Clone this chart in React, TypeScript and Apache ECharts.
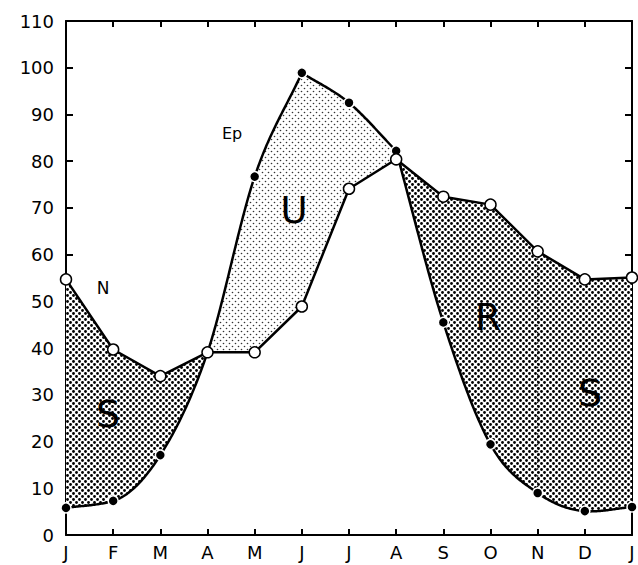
import React, { useEffect, useRef } from "react";
import * as echarts from "echarts";

// Month labels (x axis, J ... J)
const months = ["J", "F", "M", "A", "M", "J", "J", "A", "S", "O", "N", "D", "J"];
// N curve (open circles)
const seriesN = [54.7, 39.7, 34.0, 39.1, 39.1, 48.9, 74.1, 80.4, 72.4, 70.7, 60.7, 54.7, 55.1];
// Ep curve (filled dots)
const seriesEp = [5.8, 7.3, 17.1, 39.1, 76.7, 98.9, 92.5, 82.2, 45.5, 19.4, 9.0, 5.1, 6.0];
// y axis range / tick step
const yMin = 0;
const yMax = 110;
const yStep = 10;
// index of the month with the dotted separator (N)
const dividerIndex = 10;

function makePattern(size: number, dots: number[][], color: string) {
  const c = document.createElement("canvas");
  c.width = size;
  c.height = size;
  const ctx = c.getContext("2d")!;
  ctx.fillStyle = "#ffffff";
  ctx.fillRect(0, 0, size, size);
  ctx.fillStyle = color;
  dots.forEach(([x, y, r]) => {
    ctx.beginPath();
    ctx.arc(x, y, r, 0, Math.PI * 2);
    ctx.fill();
  });
  return {
    image: c.toDataURL(),
    repeat: "repeat",
    imageWidth: size,
    imageHeight: size,
  };
}

// one-sided tangents: smooth (monotone) at ordinary points, a corner where the slope changes sharply
function tangents(v: number[]) {
  const n = v.length - 1;
  const left: number[] = [];
  const right: number[] = [];
  for (let k = 0; k <= n; k++) {
    const s0 = k > 0 ? v[k] - v[k - 1] : null;
    const s1 = k < n ? v[k + 1] - v[k] : null;
    if (s0 === null) {
      left[k] = right[k] = s1 as number;
    } else if (s1 === null) {
      left[k] = right[k] = s0;
    } else if (Math.abs(s1 - s0) > 20) {
      left[k] = s0;
      right[k] = s1;
    } else {
      const p = (s0 + s1) / 2;
      const lim = 2 * Math.min(Math.abs(s0), Math.abs(s1));
      const m = Math.sign(s0) === Math.sign(s1) ? Math.sign(p) * Math.min(Math.abs(p), lim) : p * 0.5;
      left[k] = right[k] = m;
    }
  }
  return { left, right };
}

function hermite(v: number[], tg: { left: number[]; right: number[] }, i: number, t: number) {
  const t2 = t * t;
  const t3 = t2 * t;
  const h00 = 2 * t3 - 3 * t2 + 1;
  const h10 = t3 - 2 * t2 + t;
  const h01 = -2 * t3 + 3 * t2;
  const h11 = t3 - t2;
  return h00 * v[i] + h10 * tg.right[i] + h01 * v[i + 1] + h11 * tg.left[i + 1];
}

export default function App() {
  const ref = useRef<HTMLDivElement>(null);

  useEffect(() => {
    if (!ref.current) return;
    const chart = echarts.init(ref.current, null, { renderer: "svg" });

    const darkPattern = makePattern(6, [[1.5, 1.5, 1.4], [4.5, 4.5, 1.4]], "#000000");
    const lightPattern = makePattern(6, [[1.5, 1.5, 0.8], [4.5, 4.5, 0.8]], "#333333");
    const epTangents = tangents(seriesEp);

    const renderItem = (_params: any, api: any) => {
      const steps = 40;
      const samples: { x: number; n: number; e: number }[] = [];
      for (let i = 0; i < months.length - 1; i++) {
        for (let s = 0; s < steps; s++) {
          const t = s / steps;
          samples.push({
            x: i + t,
            n: seriesN[i] + (seriesN[i + 1] - seriesN[i]) * t,
            e: hermite(seriesEp, epTangents, i, t),
          });
        }
      }
      const last = months.length - 1;
      samples.push({ x: last, n: seriesN[last], e: seriesEp[last] });

      const regions: { sign: number; pts: number[][] }[] = [];
      let cur: { sign: number; pts: number[][] } | null = null;
      let prev: { x: number; n: number; e: number } | null = null;
      for (const p of samples) {
        const d = p.n - p.e;
        const sign = d >= 0 ? 1 : -1;
        if (!cur) {
          cur = { sign, pts: [[p.x, p.n, p.e]] };
        } else if (sign !== cur.sign && prev) {
          const dp = prev.n - prev.e;
          const f = dp / (dp - d);
          const cx = prev.x + f * (p.x - prev.x);
          const cy = prev.n + f * (p.n - prev.n);
          cur.pts.push([cx, cy, cy]);
          regions.push(cur);
          cur = { sign, pts: [[cx, cy, cy], [p.x, p.n, p.e]] };
        } else {
          cur.pts.push([p.x, p.n, p.e]);
        }
        prev = p;
      }
      if (cur) regions.push(cur);

      const children: any[] = [];
      regions.forEach((r) => {
        const upper = r.pts.map((q) => api.coord([q[0], Math.max(q[1], q[2])]));
        const lower = r.pts
          .slice()
          .reverse()
          .map((q) => api.coord([q[0], Math.min(q[1], q[2])]));
        children.push({
          type: "polygon",
          shape: { points: upper.concat(lower) },
          style: { fill: r.sign > 0 ? darkPattern : lightPattern, stroke: null },
        });
      });

      // dotted separator at N
      const top = api.coord([dividerIndex, seriesN[dividerIndex]]);
      const bot = api.coord([dividerIndex, seriesEp[dividerIndex]]);
      children.push({
        type: "line",
        shape: { x1: top[0], y1: top[1], x2: bot[0], y2: bot[1] },
        style: { stroke: "#000", lineWidth: 1.2, lineDash: [1.5, 2] },
      });

      // Ep smooth curve
      children.push({
        type: "polyline",
        shape: { points: samples.map((p) => api.coord([p.x, p.e])) },
        style: { stroke: "#000", lineWidth: 2.5, fill: null, lineJoin: "round", lineCap: "round" },
      });

      return { type: "group", children };
    };

    const font = "DejaVu Sans";
    const axisLine = { show: true, onZero: false, lineStyle: { color: "#000", width: 2 } };
    const tick = { show: true, inside: true, length: 6, lineStyle: { color: "#000", width: 2 } };
    const label = (text: string, x: number, y: number, size: number, weight = "normal") => ({
      type: "text",
      x,
      y,
      z: 50,
      style: {
        text,
        font: `${weight} ${size}px "${font}"`,
        fill: "#000",
        align: "center",
        verticalAlign: "middle",
      },
    });

    chart.setOption({
      animation: false,
      backgroundColor: "#ffffff",
      grid: { left: 66, right: 6, top: 21, bottom: 30 },
      xAxis: [
        {
          type: "value",
          min: 0,
          max: months.length - 1,
          interval: 1,
          position: "bottom",
          axisLine,
          axisTick: tick,
          axisLabel: {
            formatter: (v: number) => months[v] ?? "",
            color: "#000",
            fontFamily: font,
            fontSize: 18,
            margin: 8,
          },
          splitLine: { show: false },
        },
        {
          type: "value",
          min: 0,
          max: months.length - 1,
          interval: 1,
          position: "top",
          axisLine,
          axisTick: tick,
          axisLabel: { show: false },
          splitLine: { show: false },
        },
      ],
      yAxis: [
        {
          type: "value",
          min: yMin,
          max: yMax,
          interval: yStep,
          position: "left",
          axisLine,
          axisTick: { ...tick, length: 7 },
          axisLabel: { color: "#000", fontFamily: font, fontSize: 18, margin: 12 },
          splitLine: { show: false },
        },
        {
          type: "value",
          min: yMin,
          max: yMax,
          interval: yStep,
          position: "right",
          axisLine,
          axisTick: { ...tick, length: 7 },
          axisLabel: { show: false },
          splitLine: { show: false },
        },
      ],
      series: [
        {
          type: "custom",
          coordinateSystem: "cartesian2d",
          xAxisIndex: 0,
          yAxisIndex: 0,
          data: [[0, 0]],
          renderItem,
          silent: true,
          clip: false,
          z: 1,
        },
        {
          name: "Ep",
          type: "scatter",
          xAxisIndex: 0,
          yAxisIndex: 0,
          data: seriesEp.map((v, i) => [i, v]),
          symbol: "circle",
          symbolSize: 10,
          itemStyle: { color: "#000", borderColor: "#fff", borderWidth: 1.5, opacity: 1 },
          z: 2,
        },
        {
          name: "N",
          type: "line",
          xAxisIndex: 0,
          yAxisIndex: 0,
          data: seriesN.map((v, i) => [i, v]),
          smooth: false,
          showAllSymbol: true,
          symbol: "circle",
          symbolSize: 11,
          lineStyle: { color: "#000", width: 2.5 },
          itemStyle: { color: "#fff", borderColor: "#000", borderWidth: 1.5 },
          z: 3,
        },
      ],
      graphic: [
        label("N", 103, 288, 17),
        label("Ep", 232, 133, 16),
        label("U", 294, 210, 37),
        label("S", 108, 414, 38),
        label("R", 488, 317, 37),
        label("S", 590, 393, 38),
      ],
    });

    return () => chart.dispose();
  }, []);

  return (
    <div
      ref={ref}
      style={{ position: "absolute", left: 0, top: 0, width: 638, height: 565, background: "#fff" }}
    />
  );
}
